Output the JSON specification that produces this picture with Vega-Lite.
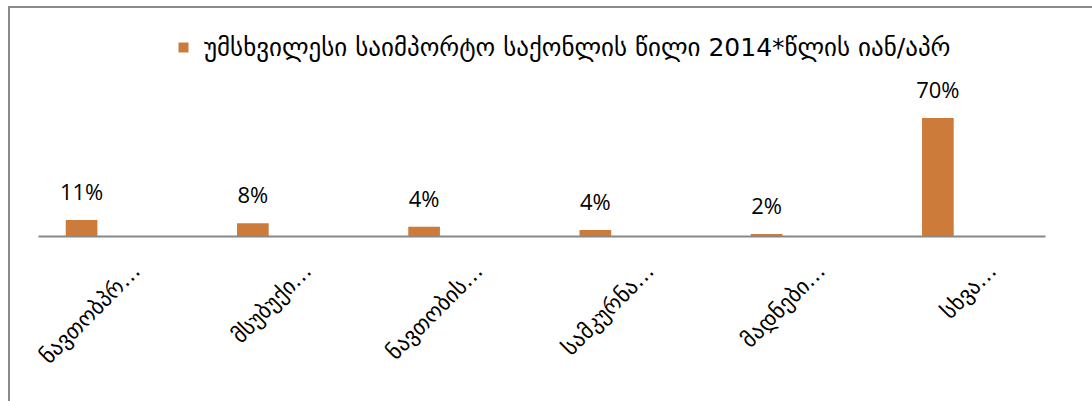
{
  "$schema": "https://vega.github.io/schema/vega-lite/v6.json",
  "autosize": "none",
  "width": 1103,
  "height": 395,
  "padding": {"left": 9, "top": 7, "right": -20, "bottom": -1},
  "background": "white",
  "config": {"view": {"stroke": "#8a8a8a", "strokeWidth": 2}, "font": "DejaVu Sans"},
  "data": {"values": [
    {"category": "ნავთობპრ…", "value": 9.5, "label": "11%"},
    {"category": "მსუბუქი…", "value": 7.5, "label": "8%"},
    {"category": "ნავთობის…", "value": 5.5, "label": "4%"},
    {"category": "სამკურნა…", "value": 3.6, "label": "4%"},
    {"category": "მადნები…", "value": 1.2, "label": "2%"},
    {"category": "სხვა…", "value": 70, "label": "70%"}
  ]},
  "encoding": {
    "x": {
      "field": "category", "type": "nominal", "sort": null,
      "scale": {"range": [29, 1036], "paddingInner": 0.815, "paddingOuter": 0.3475, "align": 0.233, "round": false},
      "axis": {
        "title": null, "domainColor": "#888888", "domainWidth": 2, "ticks": false, "tickSize": 0,
        "labelAngle": -45, "labelAlign": "right", "labelBaseline": "middle",
        "labelFontSize": 22, "labelFont": "DejaVu Sans", "labelColor": "#000000",
        "labelPadding": 31, "labelOffset": 55, "offset": -166, "grid": false,
        "labelLimit": 400, "labelOverlap": false, "labelFlush": false
      }
    },
    "y": {"field": "value", "type": "quantitative", "scale": {"domain": [0, 70], "range": [229, 111]}, "axis": null}
  },
  "layer": [
    {
      "mark": {"type": "bar"},
      "encoding": {
        "color": {
          "datum": "უმსხვილესი საიმპორტო საქონლის წილი 2014*წლის იან/აპრ",
          "scale": {"range": ["#CD7B3A"]},
          "legend": {
            "title": null, "orient": "none", "legendX": 162, "legendY": 28,
            "symbolType": "square", "symbolSize": 100, "symbolStrokeWidth": 0,
            "labelFontSize": 25, "labelFont": "DejaVu Sans", "labelLimit": 1000,
            "labelOffset": 8, "padding": 0, "labelColor": "#000000"
          }
        }
      }
    },
    {
      "mark": {"type": "text", "dy": -20, "baseline": "alphabetic", "fontSize": 22, "font": "Open Sans", "color": "#000000"},
      "encoding": {"text": {"field": "label"}}
    }
  ]
}
